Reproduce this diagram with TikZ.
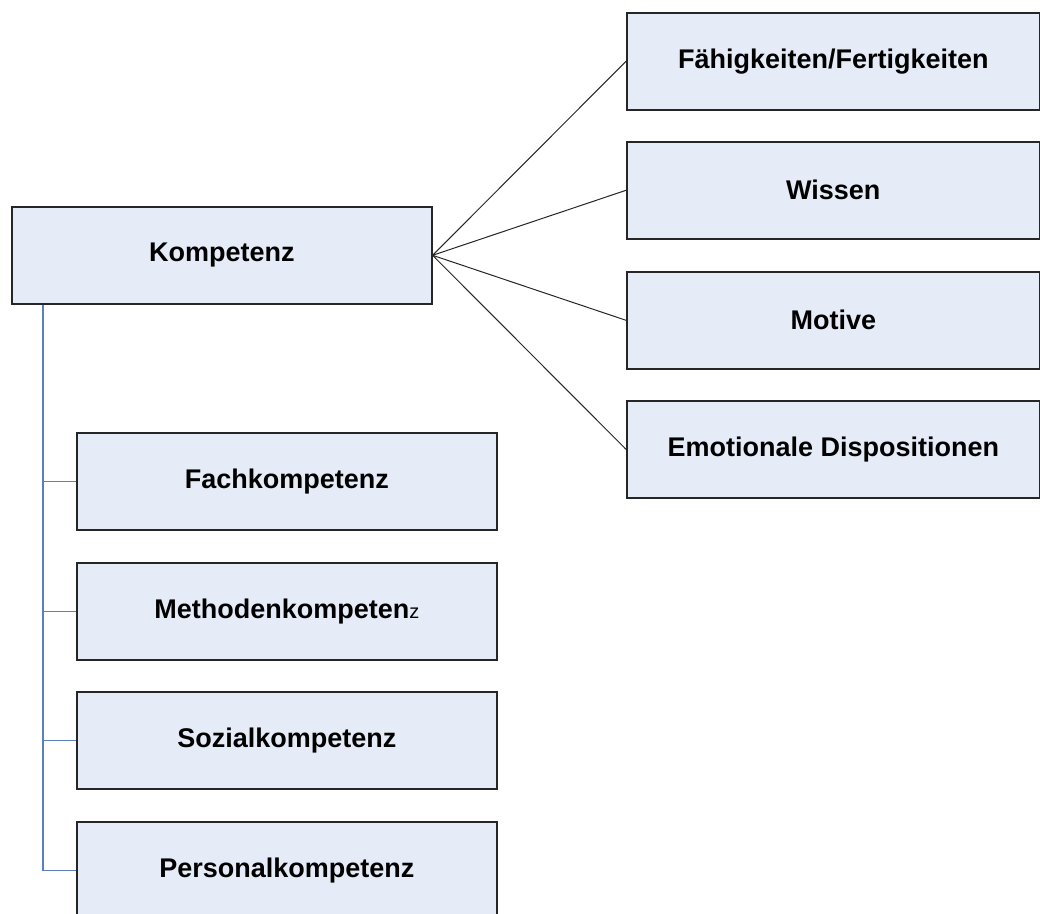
\documentclass[tikz,border=0pt]{standalone}
\usepackage{fontspec}
\setmainfont{Liberation Sans}
\begin{document}
\begin{tikzpicture}[x=1pt,y=-1pt,
  box/.style={draw=black!85, line width=1.6pt, fill=boxfill, minimum width=420pt,
    minimum height=97pt, inner sep=0pt, font=\fontsize{27}{32}\selectfont\bfseries, anchor=north west},
  fan/.style={draw=black!85, line width=1pt},
  tree/.style={draw=treeblue, line width=1.1pt}]
\definecolor{boxfill}{HTML}{E6ECF7}
\definecolor{treeblue}{HTML}{5B80BE}
\useasboundingbox (0,0) rectangle (1040,913);
\clip (0,0) rectangle (1040,913);

% main concept
\node[box] (komp) at (11,206) {Kompetenz};

% components on the right
\node[box, minimum width=413pt] (faeh) at (626,12)  {Fähigkeiten/Fertigkeiten};
\node[box, minimum width=413pt] (wiss) at (626,141) {Wissen};
\node[box, minimum width=413pt] (moti) at (626,271) {Motive};
\node[box, minimum width=413pt] (emot) at (626,400) {Emotionale Dispositionen};

% kinds of competence on the left
\node[box] (fach) at (76,432) {Fachkompetenz};
\node[box] (meth) at (76,562) {Methodenkompeten{\fontsize{20}{24}\selectfont\mdseries z}};
\node[box] (sozi) at (76,691) {Sozialkompetenz};
\node[box] (pers) at (76,821) {Personalkompetenz};

% fan of connectors
\foreach \t in {faeh,wiss,moti,emot}
  \draw[fan] (komp.east) -- (\t.west);

% tree of connectors
\coordinate (trunk) at ([xshift=32pt]komp.south west);
\draw[tree] (trunk) |- (pers.west);
\foreach \t in {fach,meth,sozi}
  \draw[tree] (trunk |- \t.west) -- (\t.west);
\end{tikzpicture}
\end{document}
